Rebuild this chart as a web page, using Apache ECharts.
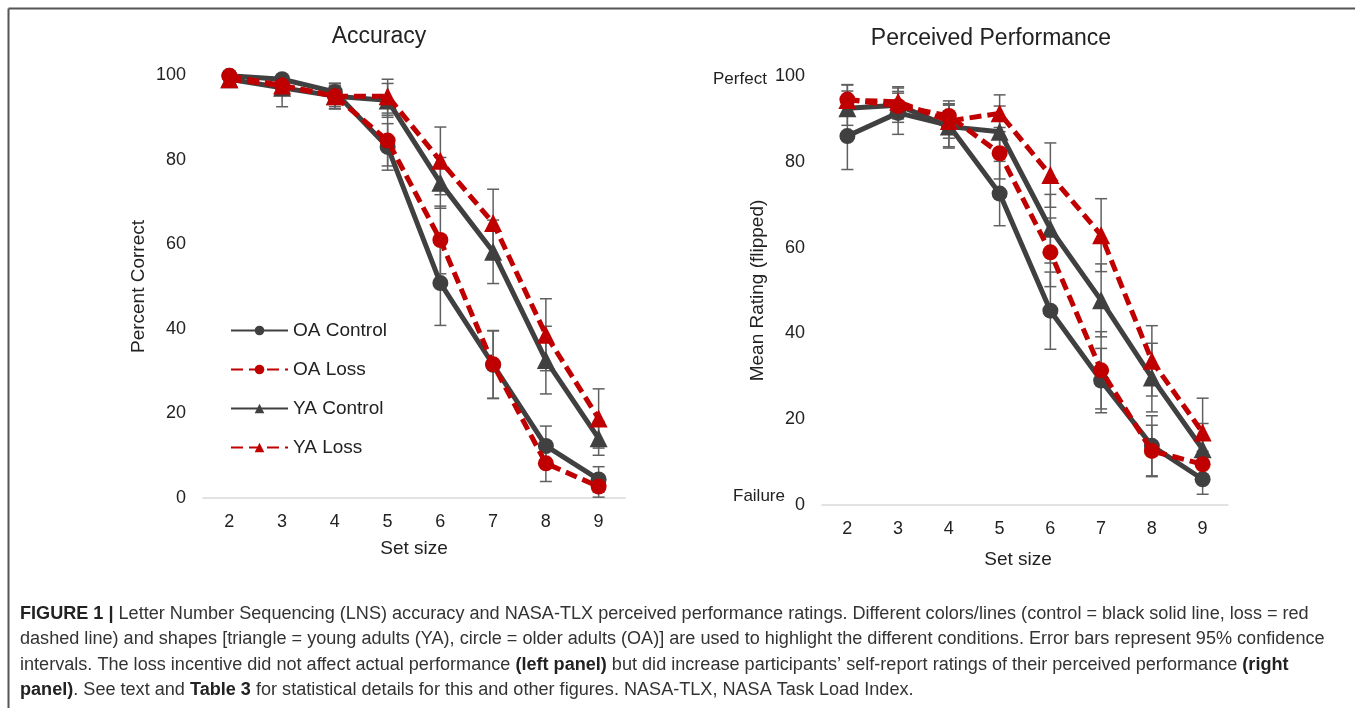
<!DOCTYPE html>
<html>
<head>
<meta charset="utf-8">
<title>Figure 1</title>
<script src="https://cdn.jsdelivr.net/npm/echarts@6/dist/echarts.min.js"></script>
<style>
    html, body { margin: 0; padding: 0; background: #fff; }
    #chart { width: 1355px; height: 708px; }
</style>
</head>
<body>
<div id="chart"></div>
<script>
/* ---------- data ---------- */
var setSizes = ['2', '3', '4', '5', '6', '7', '8', '9'];
var yTicks = [0, 20, 40, 60, 80, 100];

// Accuracy (percent correct)
var oaCtrlAcc = [99.8, 99.0, 96.0, 83.0, 50.8, 31.5, 12.3, 4.4];
var oaLossAcc = [99.8, 97.5, 95.0, 84.5, 61.0, 31.6, 8.2, 2.7];
var yaCtrlAcc = [99.0, 97.0, 95.0, 94.0, 74.5, 58.2, 32.6, 14.1];
var yaLossAcc = [99.0, 97.5, 95.0, 95.0, 79.7, 65.0, 38.6, 18.8];
// 95% CI half widths
var oaCtrlAccCI = [0.8, 1.5, 2, 5.5, 10, 8, 4.7, 3];
var oaLossAccCI = [0.8, 2, 2.5, 6, 8, 8, 4.3, 2.5];
var yaCtrlAccCI = [1, 4.5, 3, 4, 6, 7.5, 8, 4];
var yaLossAccCI = [1, 2, 3, 4, 8, 8, 8.5, 7];

// Perceived performance (mean rating, flipped)
var oaCtrlPerc = [86.0, 91.4, 88.5, 72.6, 45.3, 29.0, 13.8, 6.0];
var oaLossPerc = [94.5, 93.0, 90.7, 82.0, 58.9, 31.4, 12.6, 9.5];
var yaCtrlPerc = [92.5, 93.2, 88.2, 87.0, 64.4, 47.7, 29.7, 13.0];
var yaLossPerc = [94.4, 94.0, 89.5, 91.3, 76.9, 62.9, 33.6, 16.9];
var oaCtrlPercCI = [7.8, 5, 5, 7.5, 9, 7.5, 7, 3.5];
var oaLossPercCI = [3.5, 3, 3.5, 6, 8, 9, 6, 3];
var yaCtrlPercCI = [4, 4, 5, 6, 8, 8.5, 8, 6];
var yaLossPercCI = [3.5, 3.5, 4, 4.3, 7.5, 8.5, 8.2, 8];

var seriesNames = ['OA Control', 'OA Loss', 'YA Control', 'YA Loss'];

/* ---------- helpers ---------- */
var DARK = '#404040';
var RED = '#c00000';
var FONT = '"Liberation Sans", Arial, sans-serif';

function ciData(vals, ci) {
    return vals.map(function (v, i) {
        return [i, Math.max(0, v - ci[i]), Math.min(100, v + ci[i])];
    });
}

function errorBars(idx, vals, ci) {
    return {
        type: 'custom',
        xAxisIndex: idx,
        yAxisIndex: idx,
        silent: true,
        z: 1,
        data: ciData(vals, ci),
        renderItem: function (params, api) {
            var top = api.coord([api.value(0), api.value(2)]);
            var bot = api.coord([api.value(0), api.value(1)]);
            var w = 6;
            var st = { stroke: '#606060', lineWidth: 1.5 };
            return {
                type: 'group',
                children: [
                    { type: 'line', shape: { x1: top[0], y1: top[1], x2: bot[0], y2: bot[1] }, style: st },
                    { type: 'line', shape: { x1: top[0] - w, y1: top[1], x2: top[0] + w, y2: top[1] }, style: st },
                    { type: 'line', shape: { x1: bot[0] - w, y1: bot[1], x2: bot[0] + w, y2: bot[1] }, style: st }
                ]
            };
        }
    };
}

function lineSeries(idx, name, vals, color, dashed, symbol) {
    return {
        name: name,
        type: 'line',
        xAxisIndex: idx,
        yAxisIndex: idx,
        data: vals,
        z: dashed ? 4 : 3,
        symbol: symbol,
        symbolSize: symbol === 'circle' ? 16 : 18,
        showAllSymbol: true,
        itemStyle: { color: color },
        lineStyle: { color: color, width: 5, type: dashed ? [12, 6] : 'solid' },
        emphasis: { disabled: true },
        animation: false
    };
}

function xAxisCfg(idx, gap, shift) {
    return {
        type: 'category',
        gridIndex: idx,
        data: setSizes,
        boundaryGap: true,
        axisLine: { lineStyle: { color: '#d9d9d9', width: 1.5 } },
        axisTick: { show: false },
        axisLabel: { fontSize: 18, color: '#222', margin: 15, fontFamily: FONT },
        name: 'Set size',
        nameLocation: 'middle',
        nameGap: gap,
        nameTextStyle: { fontSize: 19, color: '#222', fontFamily: FONT, padding: [0, shift, 0, 0] }
    };
}

function yAxisCfg(idx, name) {
    return {
        type: 'value',
        gridIndex: idx,
        min: yTicks[0],
        max: yTicks[yTicks.length - 1],
        interval: yTicks[1] - yTicks[0],
        axisLine: { show: false },
        axisTick: { show: false },
        splitLine: { show: false },
        axisLabel: { fontSize: 18, color: '#222', margin: 17, fontFamily: FONT },
        name: name,
        nameLocation: 'middle',
        nameGap: 55,
        nameTextStyle: { fontSize: 19, color: '#222', fontFamily: FONT }
    };
}

/* ---------- caption ---------- */
var captionLines = [
    '{b|FIGURE 1 |} Letter Number Sequencing (LNS) accuracy and NASA-TLX perceived performance ratings. Different colors/lines (control = black solid line, loss = red',
    'dashed line) and shapes [triangle = young adults (YA), circle = older adults (OA)] are used to highlight the different conditions. Error bars represent 95% confidence',
    'intervals. The loss incentive did not affect actual performance {b|(left panel)} but did increase participants\u2019 self-report ratings of their perceived performance {b|(right}',
    '{b|panel)}. See text and {b|Table 3} for statistical details for this and other figures. NASA-TLX, NASA Task Load Index.'
];

var graphics = [
    { type: 'line', shape: { x1: 8.5, y1: 8.5, x2: 1355, y2: 8.5 }, style: { stroke: '#555', lineWidth: 2 } },
    { type: 'line', shape: { x1: 8.5, y1: 8.5, x2: 8.5, y2: 708 }, style: { stroke: '#555', lineWidth: 2 } },
    { type: 'text', left: 713, top: 71, style: { text: 'Perfect', fontSize: 17, fill: '#222', fontFamily: FONT } },
    { type: 'text', left: 733, top: 488, style: { text: 'Failure', fontSize: 17, fill: '#222', fontFamily: FONT } }
];
captionLines.forEach(function (txt, i) {
    graphics.push({
        type: 'text',
        x: 20,
        y: 614 + i * 25.5,
        scaleX: 1.005,
        style: {
            text: txt,
            fontSize: 18,
            fill: '#333',
            fontFamily: FONT,
            verticalAlign: 'middle',
            rich: {
                b: { fontWeight: 'bold', fontSize: 18, fill: '#222', fontFamily: FONT }
            }
        }
    });
});

/* ---------- chart ---------- */
var chart = echarts.init(document.getElementById('chart'), null, { renderer: 'canvas' });

var option = {
    backgroundColor: '#fff',
    animation: false,
    textStyle: { fontFamily: FONT },
    title: [
        { text: 'Accuracy', left: 374, top: 20, textAlign: 'center',
          textStyle: { fontSize: 23, fontWeight: 'normal', color: '#222', fontFamily: FONT } },
        { text: 'Perceived Performance', left: 986, top: 22, textAlign: 'center',
          textStyle: { fontSize: 23, fontWeight: 'normal', color: '#222', fontFamily: FONT } }
    ],
    legend: {
        data: seriesNames,
        orient: 'vertical',
        left: 225,
        top: 316,
        itemWidth: 57,
        itemHeight: 12,
        itemGap: 20,
        textStyle: { fontSize: 19, color: '#222', fontFamily: FONT },
        selectedMode: false
    },
    grid: [
        { left: 203, top: 75, width: 422, height: 423 },
        { left: 822, top: 76, width: 406, height: 429 }
    ],
    xAxis: [xAxisCfg(0, 41, 0), xAxisCfg(1, 45, 14)],
    yAxis: [yAxisCfg(0, 'Percent Correct'), yAxisCfg(1, 'Mean Rating (flipped)')],
    graphic: graphics,
    series: [
        errorBars(0, oaCtrlAcc, oaCtrlAccCI),
        errorBars(0, oaLossAcc, oaLossAccCI),
        errorBars(0, yaCtrlAcc, yaCtrlAccCI),
        errorBars(0, yaLossAcc, yaLossAccCI),
        lineSeries(0, 'OA Control', oaCtrlAcc, DARK, false, 'circle'),
        lineSeries(0, 'YA Control', yaCtrlAcc, DARK, false, 'triangle'),
        lineSeries(0, 'OA Loss', oaLossAcc, RED, true, 'circle'),
        lineSeries(0, 'YA Loss', yaLossAcc, RED, true, 'triangle'),

        errorBars(1, oaCtrlPerc, oaCtrlPercCI),
        errorBars(1, oaLossPerc, oaLossPercCI),
        errorBars(1, yaCtrlPerc, yaCtrlPercCI),
        errorBars(1, yaLossPerc, yaLossPercCI),
        lineSeries(1, 'OA Control', oaCtrlPerc, DARK, false, 'circle'),
        lineSeries(1, 'YA Control', yaCtrlPerc, DARK, false, 'triangle'),
        lineSeries(1, 'OA Loss', oaLossPerc, RED, true, 'circle'),
        lineSeries(1, 'YA Loss', yaLossPerc, RED, true, 'triangle')
    ]
};

chart.setOption(option);
</script>
</body>
</html>
